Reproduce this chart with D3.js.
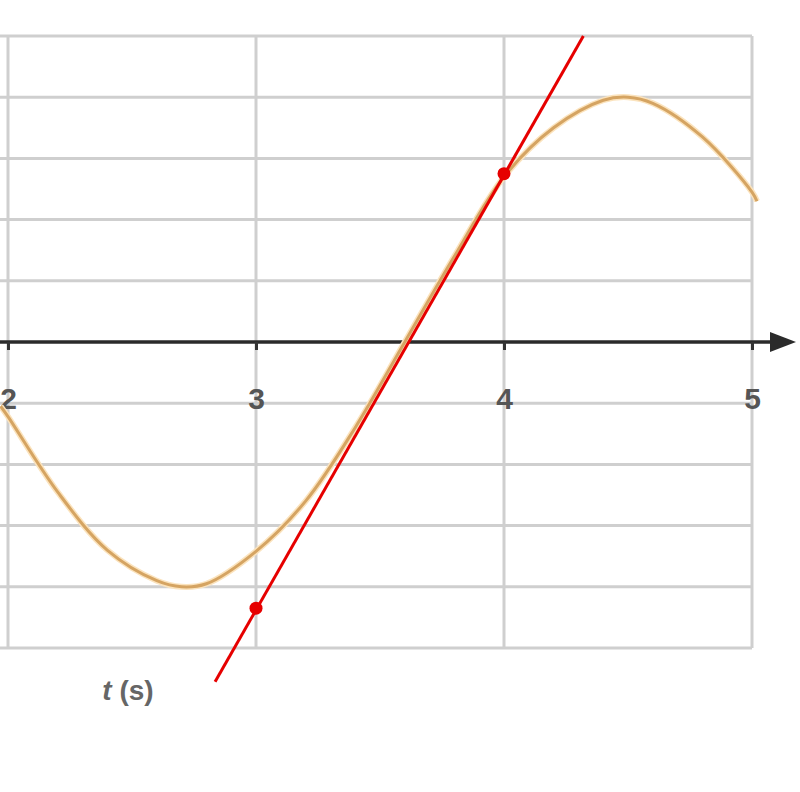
<!DOCTYPE html>
<html>
<head>
<meta charset="utf-8">
<script src="https://cdn.jsdelivr.net/npm/d3@7"></script>
<style>
  body { margin: 0; background: #fff; }
  .grid line { stroke: #cfcfcf; stroke-width: 3; }
  .axis .tick line { stroke: #333; stroke-width: 3; }
  .axis .tick text { font-family: 'Liberation Sans', Arial, sans-serif; font-size: 30px; font-weight: bold; fill: #555; }
</style>
</head>
<body>
<div id="chart"></div>
<script>
// t values (s) and curve values
const curveT = [1.97, 2.0, 2.2, 2.4, 2.6, 2.7, 2.8, 3.0, 3.2, 3.4, 3.6, 3.8, 4.0, 4.2, 4.4, 4.5, 4.6, 4.8, 5.0, 5.02];
const curveY = [-1.05, -1.22, -2.45, -3.4, -3.9, -4.0, -3.95, -3.42, -2.6, -1.4, 0, 1.4, 2.7, 3.5, 3.95, 4.0, 3.9, 3.35, 2.45, 2.3];

// tangent line (ends) and its two marked points
const tangentT = [2.835, 4.32];
const tangentY = [-5.55, 5.0];
const dotT = [3, 4];
const dotY = [-4.35, 2.75];

const tickT = [2, 3, 4, 5];
const gridY = [-5, -4, -3, -2, -1, 1, 2, 3, 4, 5];

const width = 800, height = 792;

const svg = d3.select('#chart').append('svg')
  .attr('width', width)
  .attr('height', height);

const x = d3.scaleLinear().domain([2, 5]).range([8, 752]);
const y = d3.scaleLinear().domain([-5, 5]).range([648, 36]);

// grid
const grid = svg.append('g').attr('class', 'grid');
grid.selectAll('.h').data(gridY).enter().append('line')
  .attr('class', 'h')
  .attr('x1', 0).attr('x2', x(5))
  .attr('y1', (d) => y(d)).attr('y2', (d) => y(d));
grid.selectAll('.v').data(tickT).enter().append('line')
  .attr('class', 'v')
  .attr('x1', (d) => x(d)).attr('x2', (d) => x(d))
  .attr('y1', y(5)).attr('y2', y(-5));

// t axis with arrow
svg.append('line')
  .attr('x1', 0).attr('x2', 772)
  .attr('y1', y(0)).attr('y2', y(0))
  .attr('stroke', '#2b2b2b').attr('stroke-width', 3.5);
svg.append('path')
  .attr('d', `M770,${y(0) - 10}L796,${y(0)}L770,${y(0) + 10}Z`)
  .attr('fill', '#2b2b2b');

const axis = svg.append('g')
  .attr('class', 'axis')
  .attr('transform', `translate(0,${y(0)})`)
  .call(d3.axisBottom(x).tickValues(tickT).tickSize(8).tickPadding(38).tickFormat(d3.format('d')));
axis.select('.domain').remove();

// curve
const pts = curveT.map((t, i) => [t, curveY[i]]);
const line = d3.line().x((d) => x(d[0])).y((d) => y(d[1])).curve(d3.curveCatmullRom);
svg.append('path')
  .datum(pts)
  .attr('fill', 'none')
  .attr('stroke', '#fbe3bd')
  .attr('stroke-width', 6)
  .attr('d', line);
svg.append('path')
  .datum(pts)
  .attr('fill', 'none')
  .attr('stroke', '#d5a462')
  .attr('stroke-width', 3)
  .attr('d', line);

// tangent
svg.append('line')
  .attr('x1', x(tangentT[0])).attr('y1', y(tangentY[0]))
  .attr('x2', x(tangentT[1])).attr('y2', y(tangentY[1]))
  .attr('stroke', '#e60000').attr('stroke-width', 3);
svg.selectAll('.dot').data(dotT).enter().append('circle')
  .attr('class', 'dot')
  .attr('cx', (d) => x(d))
  .attr('cy', (d, i) => y(dotY[i]))
  .attr('r', 6.5)
  .attr('fill', '#e60000');

// axis label
const lbl = svg.append('text')
  .attr('x', 128).attr('y', 700)
  .attr('text-anchor', 'middle')
  .attr('font-family', 'Liberation Sans, Arial, sans-serif')
  .attr('font-size', 28)
  .attr('font-weight', 'bold')
  .attr('fill', '#666');
lbl.append('tspan').attr('font-style', 'italic').text('t');
lbl.append('tspan').text(' (s)');
</script>
</body>
</html>
